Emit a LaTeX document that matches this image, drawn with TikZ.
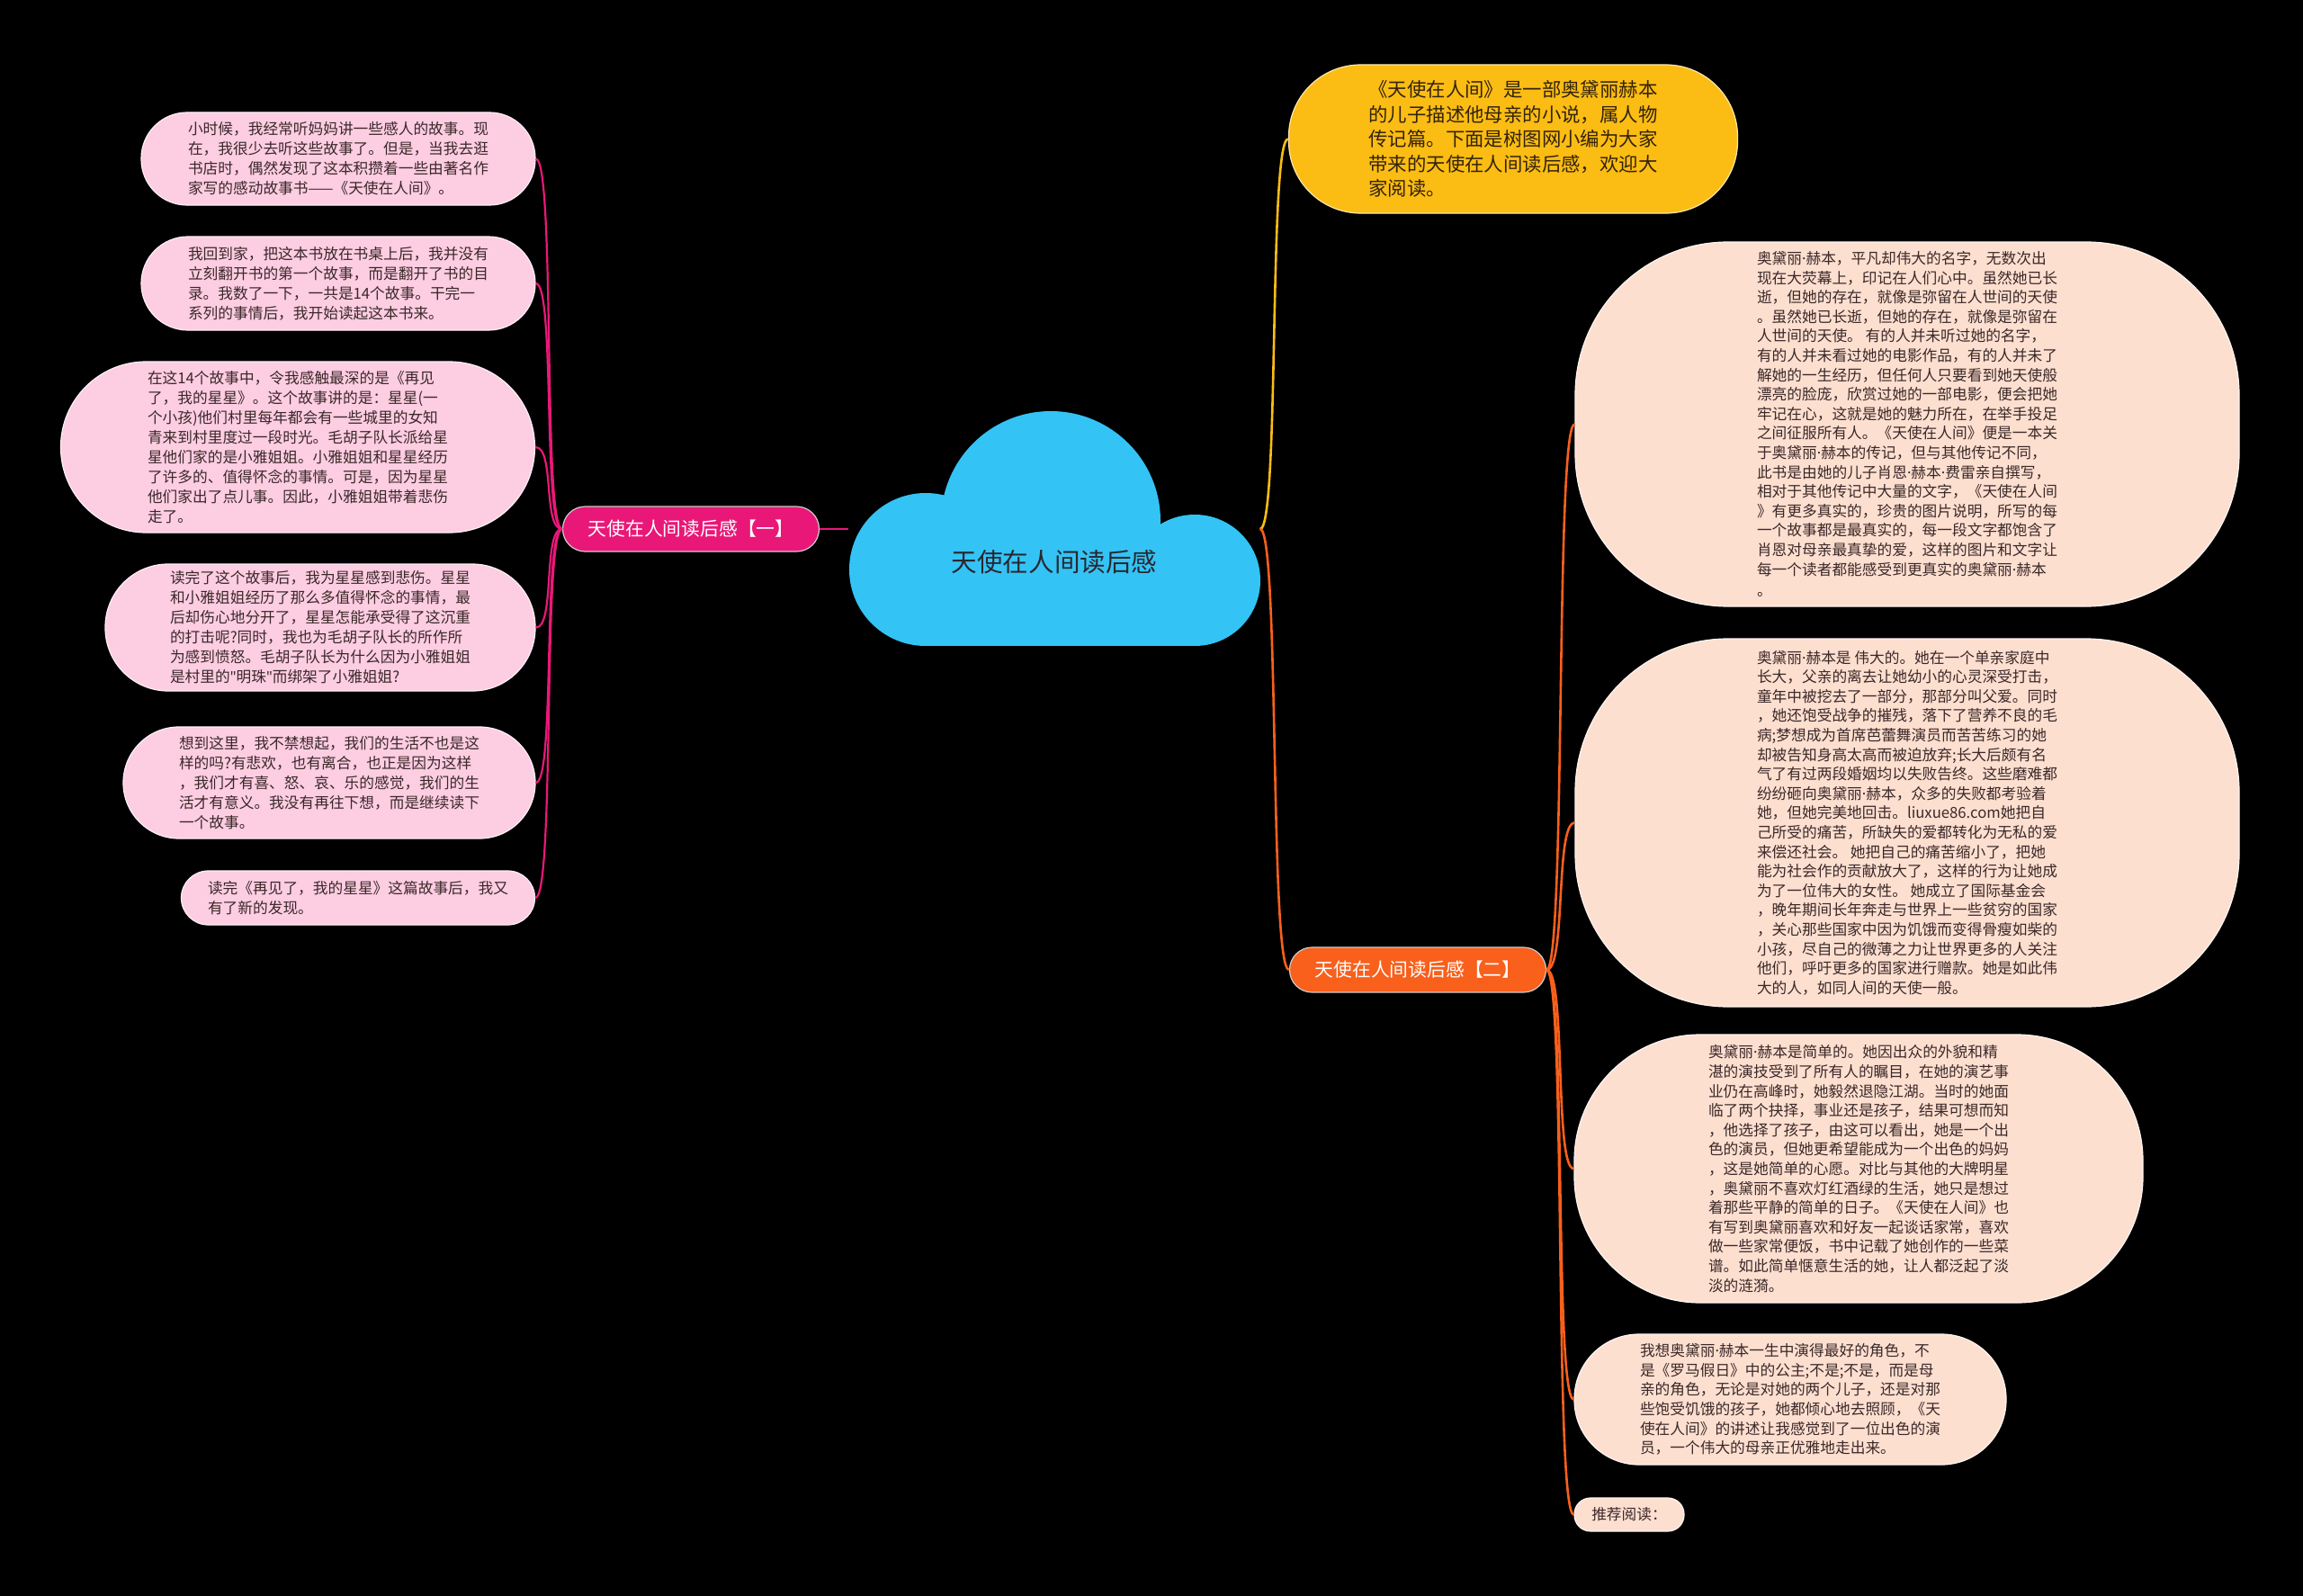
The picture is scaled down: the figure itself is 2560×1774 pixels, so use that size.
\documentclass[tikz,border=0pt]{standalone}
\usepackage{fontspec}
\setmainfont{Noto Sans CJK SC}
\newfontfamily\latinfont{Noto Sans}
\newcommand\narrowdot{{\latinfont ·}}
\newcommand\straightquote{{\latinfont "}}
\usetikzlibrary{positioning, calc}
\definecolor{cloudblue}{RGB}{52, 195, 245}
\definecolor{rosepink}{RGB}{233, 24, 120}
\definecolor{palepink}{RGB}{253, 205, 226}
\definecolor{goldyellow}{RGB}{251, 188, 20}
\definecolor{flameorange}{RGB}{248, 96, 28}
\definecolor{peach}{RGB}{253, 223, 208}
\definecolor{inkdark}{RGB}{58, 40, 40}

\begin{document}
\begin{tikzpicture}[x=1pt, y=-1pt,
    leaf/.style={fill=palepink, draw=white!70!palepink, line width=1.2pt,
                 align=left, text=inkdark, inner sep=0pt,
                 font=\fontsize{16.7}{22}\selectfont},
    note/.style={fill=peach, draw=white!70!peach, line width=1.2pt,
                 align=left, text=inkdark, inner sep=0pt,
                 font=\fontsize{16.7}{21.6}\selectfont},
    branch/.style={draw=white!80!black, line width=1.2pt, text=white,
                   minimum width=285pt, minimum height=50pt, rounded corners=25pt,
                   font=\fontsize{20.8}{24}\selectfont},
    pinkline/.style={draw=rosepink, line width=2.2pt},
    goldline/.style={draw=goldyellow, line width=2.6pt},
    orangeline/.style={draw=flameorange, line width=2.6pt}
  ]
    \fill[black] (0,0) rectangle (2560,1774);
    \useasboundingbox (0,0) rectangle (2560,1774);

    % cloud
    \fill[cloudblue] (1168,579) circle[radius=122pt];
    \fill[cloudblue] (1029,633) circle[radius=85pt];
    \fill[cloudblue] (1328,645) circle[radius=73pt];
    \fill[cloudblue] (1029,600) rectangle (1328,718);
    \node[minimum width=457pt, text={rgb,255:red,40;green,40;blue,48},
          font=\fontsize{28.6}{32}\selectfont] (root) at (1172, 625) {天使在人间读后感};

    \node[branch, fill=rosepink] (b1) at (768, 588) {天使在人间读后感【一】};
    \node[branch, fill=flameorange] (b2) at (1576, 1078) {天使在人间读后感【二】};

    \node[fill=goldyellow, draw=white!65!goldyellow, line width=1.2pt, align=left,
          text={rgb,255:red,50;green,35;blue,10}, inner sep=0pt,
          minimum width=499pt, minimum height=165pt, rounded corners=80pt,
          font=\fontsize{21.4}{27.5}\selectfont] (intro) at (1682, 154.5)
      {《天使在人间》是一部奥黛丽赫本\\
       的儿子描述他母亲的小说，属人物\\
       传记篇。下面是树图网小编为大家\\
       带来的天使在人间读后感，欢迎大\\
       家阅读。};

    % left leaves
    \node[leaf, minimum width=438pt, minimum height=103pt, rounded corners=51pt]
      (l1) at (376, 176.5)
      {小时候，我经常听妈妈讲一些感人的故事。现\\
       在，我很少去听这些故事了。但是，当我去逛\\
       书店时，偶然发现了这本积攒着一些由著名作\\
       家写的感动故事书——《天使在人间》。};
    \node[leaf, minimum width=438pt, minimum height=104pt, rounded corners=52pt]
      (l2) at (376, 315)
      {我回到家，把这本书放在书桌上后，我并没有\\
       立刻翻开书的第一个故事，而是翻开了书的目\\
       录。我数了一下，一共是14个故事。干完一\\
       系列的事情后，我开始读起这本书来。};
    \node[leaf, minimum width=527pt, minimum height=190pt, rounded corners=95pt]
      (l3) at (331, 497)
      {在这14个故事中，令我感触最深的是《再见\\
       了，我的星星》。这个故事讲的是：星星(一\\
       个小孩)他们村里每年都会有一些城里的女知\\
       青来到村里度过一段时光。毛胡子队长派给星\\
       星他们家的是小雅姐姐。小雅姐姐和星星经历\\
       了许多的、值得怀念的事情。可是，因为星星\\
       他们家出了点儿事。因此，小雅姐姐带着悲伤\\
       走了。};
    \node[leaf, minimum width=478pt, minimum height=141pt, rounded corners=70pt]
      (l4) at (356, 697.5)
      {读完了这个故事后，我为星星感到悲伤。星星\\
       和小雅姐姐经历了那么多值得怀念的事情，最\\
       后却伤心地分开了，星星怎能承受得了这沉重\\
       的打击呢?同时，我也为毛胡子队长的所作所\\
       为感到愤怒。毛胡子队长为什么因为小雅姐姐\\
       是村里的\straightquote 明珠\straightquote 而绑架了小雅姐姐?};
    \node[leaf, minimum width=458pt, minimum height=124pt, rounded corners=62pt]
      (l5) at (366, 870)
      {想到这里，我不禁想起，我们的生活不也是这\\
       样的吗?有悲欢，也有离合，也正是因为这样\\
       ，我们才有喜、怒、哀、乐的感觉，我们的生\\
       活才有意义。我没有再往下想，而是继续读下\\
       一个故事。};
    \node[leaf, minimum width=393pt, minimum height=60pt, rounded corners=30pt]
      (l6) at (398, 998)
      {读完《再见了，我的星星》这篇故事后，我又\\
       有了新的发现。};

    % right notes
    \node[note, minimum width=738pt, minimum height=405pt, rounded corners=170pt]
      (r1) at (2120, 471.5)
      {奥黛丽\narrowdot 赫本，平凡却伟大的名字，无数次出\\
       现在大荧幕上，印记在人们心中。虽然她已长\\
       逝，但她的存在，就像是弥留在人世间的天使\\
       。虽然她已长逝，但她的存在，就像是弥留在\\
       人世间的天使。 有的人并未听过她的名字，\\
       有的人并未看过她的电影作品，有的人并未了\\
       解她的一生经历，但任何人只要看到她天使般\\
       漂亮的脸庞，欣赏过她的一部电影，便会把她\\
       牢记在心，这就是她的魅力所在，在举手投足\\
       之间征服所有人。《天使在人间》便是一本关\\
       于奥黛丽\narrowdot 赫本的传记，但与其他传记不同，\\
       此书是由她的儿子肖恩\narrowdot 赫本\narrowdot 费雷亲自撰写，\\
       相对于其他传记中大量的文字，《天使在人间\\
       》有更多真实的，珍贵的图片说明，所写的每\\
       一个故事都是最真实的，每一段文字都饱含了\\
       肖恩对母亲最真挚的爱，这样的图片和文字让\\
       每一个读者都能感受到更真实的奥黛丽\narrowdot 赫本\\[2pt]
       。};
    \node[note, minimum width=738pt, minimum height=409pt, rounded corners=170pt]
      (r2) at (2120, 914.5)
      {奥黛丽\narrowdot 赫本是 伟大的。她在一个单亲家庭中\\
       长大，父亲的离去让她幼小的心灵深受打击，\\
       童年中被挖去了一部分，那部分叫父爱。同时\\
       ，她还饱受战争的摧残，落下了营养不良的毛\\
       病;梦想成为首席芭蕾舞演员而苦苦练习的她\\
       却被告知身高太高而被迫放弃;长大后颇有名\\
       气了有过两段婚姻均以失败告终。这些磨难都\\
       纷纷砸向奥黛丽\narrowdot 赫本，众多的失败都考验着\\
       她，但她完美地回击。liuxue86.com她把自\\
       己所受的痛苦，所缺失的爱都转化为无私的爱\\
       来偿还社会。 她把自己的痛苦缩小了，把她\\
       能为社会作的贡献放大了，这样的行为让她成\\
       为了一位伟大的女性。 她成立了国际基金会\\
       ，晚年期间长年奔走与世界上一些贫穷的国家\\
       ，关心那些国家中因为饥饿而变得骨瘦如柴的\\
       小孩，尽自己的微薄之力让世界更多的人关注\\
       他们，呼吁更多的国家进行赠款。她是如此伟\\
       大的人，如同人间的天使一般。};
    \node[note, minimum width=632pt, minimum height=298pt, rounded corners=140pt]
      (r3) at (2066, 1299)
      {奥黛丽\narrowdot 赫本是简单的。她因出众的外貌和精\\
       湛的演技受到了所有人的瞩目，在她的演艺事\\
       业仍在高峰时，她毅然退隐江湖。当时的她面\\
       临了两个抉择，事业还是孩子，结果可想而知\\
       ，他选择了孩子，由这可以看出，她是一个出\\
       色的演员，但她更希望能成为一个出色的妈妈\\
       ，这是她简单的心愿。对比与其他的大牌明星\\
       ，奥黛丽不喜欢灯红酒绿的生活，她只是想过\\
       着那些平静的简单的日子。《天使在人间》也\\
       有写到奥黛丽喜欢和好友一起谈话家常，喜欢\\
       做一些家常便饭，书中记载了她创作的一些菜\\
       谱。如此简单惬意生活的她，让人都泛起了淡\\
       淡的涟漪。};
    \node[note, minimum width=480pt, minimum height=145pt, rounded corners=72pt]
      (r4) at (1990, 1555.5)
      {我想奥黛丽\narrowdot 赫本一生中演得最好的角色，不\\
       是《罗马假日》中的公主;不是;不是，而是母\\
       亲的角色，无论是对她的两个儿子，还是对那\\
       些饱受饥饿的孩子，她都倾心地去照顾，《天\\
       使在人间》的讲述让我感觉到了一位出色的演\\
       员，一个伟大的母亲正优雅地走出来。};
    \node[note, minimum width=122pt, minimum height=37pt, rounded corners=18pt]
      (r5) at (1811, 1683.5) {推荐阅读：};

    % connectors
    \draw[pinkline] (b1.east) -- ([yshift=37pt]root.west);
    \foreach \leafname in {l1, l2, l3, l4, l5, l6}
      \draw[pinkline] (b1.west) .. controls +(-22,0) and +(22,0) .. (\leafname.east);
    \draw[goldline] ([yshift=37pt]root.east) .. controls +(22,0) and +(-22,0) .. (intro.west);
    \draw[orangeline] ([yshift=37pt]root.east) .. controls +(22,0) and +(-22,0) .. (b2.west);
    \foreach \notename in {r1, r2, r3, r4, r5}
      \draw[orangeline] (b2.east) .. controls +(22,0) and +(-22,0) .. (\notename.west);
  \end{tikzpicture}
\end{document}
